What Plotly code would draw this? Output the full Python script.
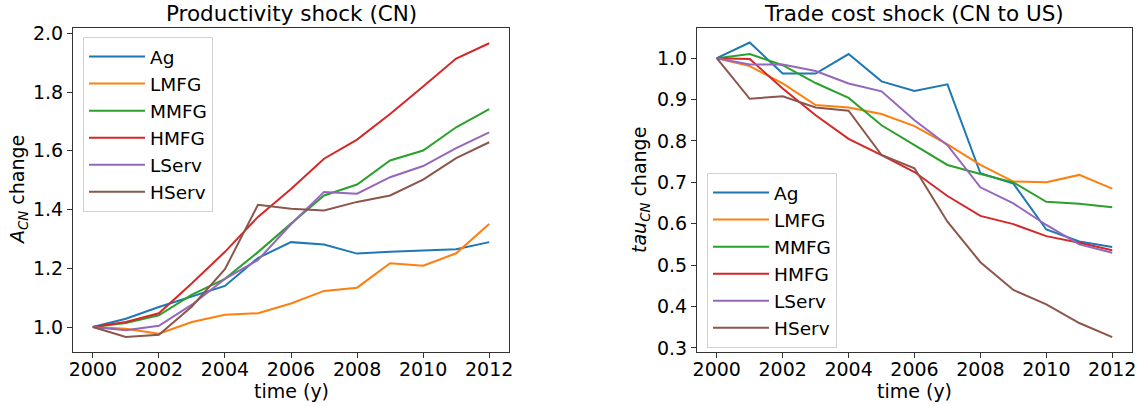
import plotly.graph_objects as go

years = list(range(2000, 2013))
sectors = ["Ag", "LMFG", "MMFG", "HMFG", "LServ", "HServ"]
colors = ["#1f77b4", "#ff7f0e", "#2ca02c", "#d62728", "#9467bd", "#8c564b"]

# Productivity shock (CN)
prod_Ag    = [1.0, 1.028, 1.068, 1.104, 1.140, 1.235, 1.289, 1.281, 1.250, 1.256, 1.260, 1.265, 1.289]
prod_LMFG  = [1.0, 0.994, 0.977, 1.017, 1.042, 1.047, 1.080, 1.123, 1.134, 1.217, 1.209, 1.251, 1.351]
prod_MMFG  = [1.0, 1.014, 1.040, 1.110, 1.164, 1.255, 1.352, 1.448, 1.485, 1.567, 1.601, 1.680, 1.742]
prod_HMFG  = [1.0, 1.017, 1.047, 1.149, 1.256, 1.375, 1.470, 1.573, 1.638, 1.725, 1.819, 1.914, 1.966]
prod_LServ = [1.0, 0.989, 1.004, 1.076, 1.164, 1.228, 1.350, 1.460, 1.454, 1.510, 1.548, 1.609, 1.663]
prod_HServ = [1.0, 0.966, 0.974, 1.070, 1.197, 1.416, 1.403, 1.397, 1.426, 1.448, 1.502, 1.575, 1.629]

# Trade cost shock (CN to US)
tau_Ag    = [1.0, 1.038, 0.963, 0.963, 1.010, 0.944, 0.921, 0.937, 0.722, 0.697, 0.586, 0.557, 0.544]
tau_LMFG  = [1.0, 0.981, 0.939, 0.887, 0.881, 0.865, 0.836, 0.792, 0.742, 0.702, 0.700, 0.718, 0.685]
tau_MMFG  = [1.0, 1.010, 0.983, 0.940, 0.904, 0.838, 0.790, 0.742, 0.720, 0.700, 0.653, 0.648, 0.640]
tau_HMFG  = [1.0, 0.998, 0.927, 0.862, 0.805, 0.766, 0.725, 0.667, 0.619, 0.599, 0.570, 0.554, 0.536]
tau_LServ = [1.0, 0.985, 0.985, 0.969, 0.939, 0.920, 0.850, 0.790, 0.688, 0.649, 0.597, 0.550, 0.530]
tau_HServ = [1.0, 0.902, 0.908, 0.881, 0.873, 0.766, 0.734, 0.605, 0.507, 0.440, 0.405, 0.360, 0.326]

prod = [prod_Ag, prod_LMFG, prod_MMFG, prod_HMFG, prod_LServ, prod_HServ]
tau = [tau_Ag, tau_LMFG, tau_MMFG, tau_HMFG, tau_LServ, tau_HServ]

W, H = 1144, 406
FONT = "DejaVu Sans"
fig = go.Figure()

for i, s in enumerate(sectors):
    fig.add_trace(go.Scatter(x=years, y=prod[i], mode="lines", name=s,
                             line=dict(color=colors[i], width=2),
                             xaxis="x", yaxis="y", legend="legend",
                             legendgroup="a" + s))
for i, s in enumerate(sectors):
    fig.add_trace(go.Scatter(x=years, y=tau[i], mode="lines", name=s,
                             line=dict(color=colors[i], width=2),
                             xaxis="x2", yaxis="y2", legend="legend2",
                             legendgroup="b" + s))

def px_x(p):
    return p / W

def px_y(p):
    return 1 - p / H

axis_common = dict(showline=True, linecolor="#333333", linewidth=1, mirror=True,
                   ticks="outside", ticklen=5, tickcolor="#333333", showgrid=False,
                   zeroline=False, automargin=False,
                   tickfont=dict(family=FONT, size=19, color="black"))

legend_common = dict(xanchor="left", yanchor="top",
                     bordercolor="#d0d0d0", borderwidth=1, bgcolor="rgba(255,255,255,0.8)",
                     font=dict(family=FONT, size=18.5, color="black"),
                     tracegroupgap=0, traceorder="grouped", itemwidth=56)

fig.update_layout(
    width=W, height=H,
    margin=dict(l=0, r=0, t=0, b=0, autoexpand=False),
    paper_bgcolor="white", plot_bgcolor="white",
    font=dict(family=FONT, color="black"),
    xaxis=dict(domain=[px_x(73), px_x(509)], range=[1999.4, 2012.6],
               tickvals=list(range(2000, 2013, 2)), anchor="y",
               ticklabelstandoff=-5, **axis_common),
    yaxis=dict(domain=[px_y(352), px_y(28)], range=[0.915, 2.018],
               tickvals=[1.0, 1.2, 1.4, 1.6, 1.8, 2.0], tickformat=".1f",
               anchor="x", **axis_common),
    xaxis2=dict(domain=[px_x(697), px_x(1132)], range=[1999.4, 2012.6],
                tickvals=list(range(2000, 2013, 2)), anchor="y2",
                ticklabelstandoff=-5, **axis_common),
    yaxis2=dict(domain=[px_y(352), px_y(28)], range=[0.290, 1.073],
                tickvals=[0.3, 0.4, 0.5, 0.6, 0.7, 0.8, 0.9, 1.0], tickformat=".1f",
                anchor="x2", **axis_common),
    legend=dict(x=px_x(83), y=px_y(37), **legend_common),
    legend2=dict(x=px_x(707), y=px_y(173), **legend_common),
    showlegend=True,
)

annos = [
    dict(text="Productivity shock (CN)", x=px_x(291), y=px_y(13), size=21.5),
    dict(text="Trade cost shock (CN to US)", x=px_x(914), y=px_y(13), size=21.5),
    dict(text="time (y)", x=px_x(291), y=px_y(391), size=19),
    dict(text="time (y)", x=px_x(914), y=px_y(391), size=19),
]
for a in annos:
    fig.add_annotation(text=a["text"], x=a["x"], y=a["y"], xref="paper", yref="paper",
                       xanchor="center", yanchor="middle", showarrow=False,
                       font=dict(family=FONT, size=a["size"], color="black"))

fig.add_annotation(text="<i>A</i><sub><i>CN</i></sub> change", x=px_x(18), y=px_y(190),
                   xref="paper", yref="paper", xanchor="center", yanchor="middle",
                   showarrow=False, textangle=-90,
                   font=dict(family=FONT, size=19, color="black"))
fig.add_annotation(text="<i>tau</i><sub><i>CN</i></sub> change", x=px_x(640), y=px_y(190),
                   xref="paper", yref="paper", xanchor="center", yanchor="middle",
                   showarrow=False, textangle=-90,
                   font=dict(family=FONT, size=19, color="black"))

fig.write_html("out.html", config={"displayModeBar": False},
               post_script="document.body.style.margin='0';document.body.style.padding='0';")
